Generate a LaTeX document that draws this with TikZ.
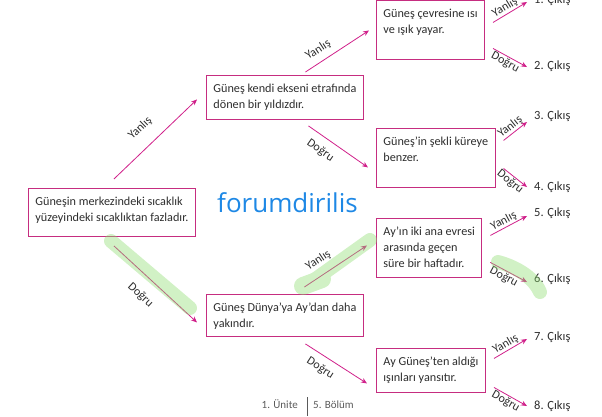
\documentclass[tikz,border=0pt]{standalone}
\usepackage{fontspec}
\setmainfont{Carlito}
\newfontfamily\wmfont{Open Sans}
\usetikzlibrary{arrows.meta}
\definecolor{boxc}{RGB}{198,45,128}
\definecolor{arrc}{RGB}{208,32,138}
\definecolor{txtc}{RGB}{45,45,45}
\definecolor{hl}{RGB}{140,220,110}
\definecolor{wmc}{RGB}{30,136,229}
\definecolor{footc}{RGB}{90,90,90}
\newcommand{\boxline}[1]{\hbox{\strut #1}}
\tikzset{
 box/.style={draw=boxc, line width=0.9pt, anchor=north west, inner xsep=7pt, inner ysep=6pt,
   font=\fontsize{12.2}{16}\selectfont, text=txtc, align=left},
 arr/.style={draw=arrc, line width=0.8pt, -{Stealth[length=6pt,width=5pt]}},
 lab/.style={font=\fontsize{12}{13}\selectfont, text=txtc, sloped, inner sep=1pt},
 outn/.style={anchor=west, inner sep=0pt, font=\fontsize{12.5}{14}\selectfont, text=txtc},
 foot/.style={inner sep=0pt, font=\fontsize{11}{12}\selectfont, text=footc},
 hlstroke/.style={draw=hl, line width=14pt, line cap=round},
}
\begin{document}
\begin{tikzpicture}[x=1pt,y=-1pt]
\useasboundingbox (0,0) rectangle (602,416);
% boxes
\node[box] (root) at (28,188) {\parbox[t][36pt][t]{158pt}{\boxline{Güneşin merkezindeki sıcaklık}\boxline{yüzeyindeki sıcaklıktan fazladır.}}};
\node[box] (A) at (206,75) {\parbox[t][32pt][t]{143pt}{\boxline{Güneş kendi ekseni etrafında}\boxline{dönen bir yıldızdır.}}};
\node[box] (B) at (206,294) {\parbox[t][30pt][t]{143pt}{\boxline{Güneş Dünya'ya Ay'dan daha}\boxline{yakındır.}}};
\node[box] (C1) at (376,0) {\parbox[t][47pt][t]{99pt}{\boxline{Güneş çevresine ısı}\boxline{ve ışık yayar.}}};
\node[box] (C2) at (376,128) {\parbox[t][47pt][t]{99pt}{\boxline{Güneş'in şekli küreye}\boxline{benzer.}}};
\node[box] (C3) at (376,218) {\parbox[t][47pt][t]{99pt}{\boxline{Ay'ın iki ana evresi}\boxline{arasında geçen}\boxline{süre bir haftadır.}}};
\node[box] (C4) at (376,348) {\parbox[t][32pt][t]{99pt}{\boxline{Ay Güneş'ten aldığı}\boxline{ışınları yansıtır.}}};
% outputs
\node[outn] (o1) at (534,0) {1. Çıkış};
\node[outn] (o2) at (534,66) {2. Çıkış};
\node[outn] (o3) at (534,116) {3. Çıkış};
\node[outn] (o4) at (534,187) {4. Çıkış};
\node[outn] (o5) at (534,213) {5. Çıkış};
\node[outn] (o6) at (534,279) {6. Çıkış};
\node[outn] (o7) at (534,337) {7. Çıkış};
\node[outn] (o8) at (534,406) {8. Çıkış};
% big arrows
\draw[arr] ([shift={(2,-9)}]root.north) -- node[lab, pos=0.47, above=12pt] {Yanlış} ([shift={(-9,2)}]A.west);
\draw[arr] ([shift={(2,9)}]root.south) -- node[lab, pos=0.47, below=12pt] {Doğru} ([shift={(-9,7)}]B.west);
\draw[arr] ([shift={(20.5,-3)}]A.north) -- node[lab, pos=0.3, above=5pt] {Yanlış} ([shift={(-7,0.5)}]C1.west);
\draw[arr] ([shift={(23.5,6)}]A.south) -- node[lab, pos=0.33, below=7pt] {Doğru} ([shift={(-8,9.5)}]C2.west);
\draw[arr] ([shift={(19.5,-7)}]B.north) -- node[lab, pos=0.35, above=8pt] {Yanlış} ([shift={(-9,-2.5)}]C3.west);
\draw[arr] ([shift={(20.5,7)}]B.south) -- node[lab, pos=0.35, below=6pt] {Doğru} ([shift={(-9,13)}]C4.west);
% small arrows
\draw[arr] ([shift={(8,-7.5)}]C1.east) -- node[lab, pos=0.45, above=0pt] {Yanlış} ([shift={(-7,2)}]o1.west);
\draw[arr] ([shift={(8,18.5)}]C1.east) -- node[lab, pos=0.45, below=0pt] {Doğru} ([shift={(-7,1)}]o2.west);
\draw[arr] ([shift={(8,-17.5)}]C2.east) -- node[lab, pos=0.45, above=0pt] {Yanlış} ([shift={(-7,6)}]o3.west);
\draw[arr] ([shift={(8,10.5)}]C2.east) -- node[lab, pos=0.45, below=0pt] {Doğru} ([shift={(-7,0)}]o4.west);
\draw[arr] ([shift={(8,-12.5)}]C3.east) -- node[lab, pos=0.45, above=0pt] {Yanlış} ([shift={(-7,3)}]o5.west);
\draw[arr] ([shift={(8,14.5)}]C3.east) -- node[lab, pos=0.45, below=0pt] {Doğru} ([shift={(-7,3)}]o6.west);
\draw[arr] ([shift={(8,-12)}]C4.east) -- node[lab, pos=0.45, above=0pt] {Yanlış} ([shift={(-7,2)}]o7.west);
\draw[arr] ([shift={(8,17)}]C4.east) -- node[lab, pos=0.45, below=0pt] {Doğru} ([shift={(-7,0)}]o8.west);
% green highlights
\begin{scope}[transparency group, opacity=0.4]
\draw[hlstroke] (111,241) -- (190,308);
\draw[hlstroke] (310,283) -- (370,240);
\draw[hlstroke, line width=18pt] (303,286) -- (322,279);
\draw[hlstroke] (498,262) .. controls (520,268) and (535,280) .. (540,292);
\end{scope}
% watermark
\node[font=\wmfont\fontsize{26}{28}\selectfont, text=wmc, anchor=base west, inner sep=0pt] (wm) at (217,212) {forumdirilis};
% footer
\node[foot, anchor=base east] (f1) at (298,408) {1. Ünite};
\node[foot, anchor=base west] (f2) at (313,408) {5. Bölüm};
\draw[footc, line width=0.8pt] (307.5,397) -- (307.5,416);
\end{tikzpicture}
\end{document}
